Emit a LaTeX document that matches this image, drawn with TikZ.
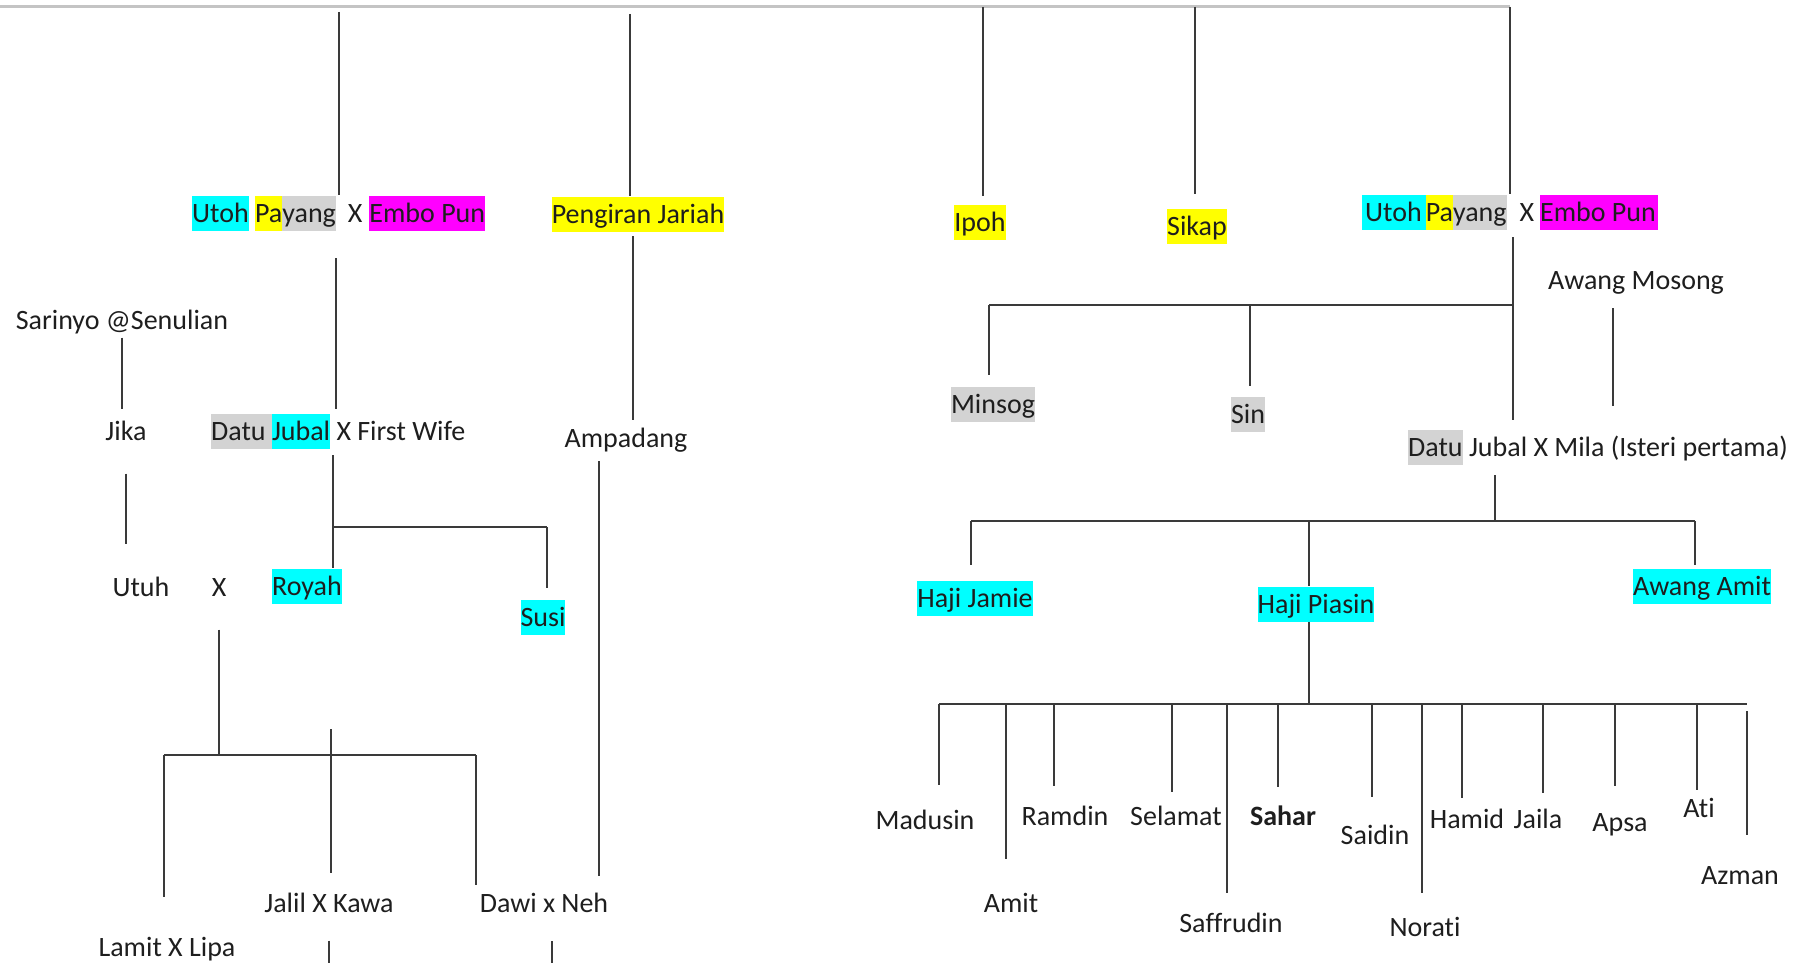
\documentclass[tikz,border=0pt]{standalone}
\usepackage{fontspec}
\setmainfont{Carlito}[Ligatures=NoCommon]
\usetikzlibrary{positioning}
\definecolor{hlcyan}{HTML}{00FFFF}
\definecolor{hlyellow}{HTML}{FFFF00}
\definecolor{hlmagenta}{HTML}{FF00FF}
\definecolor{hlgray}{HTML}{D3D3D3}
\definecolor{inkline}{HTML}{3A3A3A}
\definecolor{inktext}{HTML}{1E1E1E}
\definecolor{rootgray}{HTML}{C4C4C4}
\newcommand{\namefont}{\fontsize{28}{35}\selectfont}
\newcommand{\hilite}[2]{{\setlength{\fboxsep}{0pt}\colorbox{#1}{\rule[-8pt]{0pt}{35pt}#2}}}
\tikzstyle{person} = [inner sep=0pt, text height=27pt, text depth=8pt, font=\namefont, text=inktext]
\tikzstyle{line} = [draw=inkline, line width=1.6pt]
\tikzstyle{rootline} = [draw=rootgray, line width=3pt]

\begin{document}
\begin{tikzpicture}[x=1pt, y=-1pt]
	\useasboundingbox (0,0) rectangle (1807,963);

	% First generation
	\node (payangL) [person, anchor=west] at (192,213) {\hilite{hlcyan}{Utoh} \hilite{hlyellow}{Pa}\hilite{hlgray}{yang}\hspace{12pt}X\hspace{7pt}\hilite{hlmagenta}{Embo Pun}};
	\node (jariah) [person] at (638,214) {\hilite{hlyellow}{Pengiran Jariah}};
	\node (ipoh) [person] at (980,222) {\hilite{hlyellow}{Ipoh}};
	\node (sikap) [person] at (1197,226) {\hilite{hlyellow}{Sikap}};
	\node (payangR) [person, anchor=west] at (1362,212) {\hilite{hlcyan}{\kern3pt Utoh\kern4pt}\hilite{hlyellow}{Pa}\hilite{hlgray}{yang}\hspace{13pt}X\hspace{6pt}\hilite{hlmagenta}{Embo Pun\kern2pt}};

	% Left branch
	\node (sarinyo) [person] at (122,320) {Sarinyo @Senulian};
	\node (jika) [person] at (126,431) {Jika};
	\node (jubalL) [person, anchor=west] at (211,431) {\hilite{hlgray}{Datu\ }\hilite{hlcyan}{Jubal} X First Wife};
	\node (ampadang) [person] at (626,438) {Ampadang};
	\node (utuh) [person] at (141,587) {Utuh};
	\node (utuhX) [person, right=42pt of utuh] {X};
	\node (royah) [person] at (307,586) {\hilite{hlcyan}{Royah}};
	\node (susi) [person] at (543,617) {\hilite{hlcyan}{Susi}};
	\node (jalil) [person] at (329,903) {Jalil X Kawa};
	\node (dawi) [person] at (544,903) {Dawi x Neh};
	\node (lamit) [person] at (167,947) {Lamit X Lipa};

	% Right branch
	\node (minsog) [person] at (993,404) {\hilite{hlgray}{Minsog}};
	\node (sin) [person] at (1248,414) {\hilite{hlgray}{Sin}};
	\node (mosong) [person] at (1636,280) {Awang Mosong};
	\node (jubalR) [person, anchor=west] at (1408,447) {\hilite{hlgray}{Datu} Jubal X Mila (Isteri pertama)};
	\node (jamie) [person] at (975,598) {\hilite{hlcyan}{Haji Jamie}};
	\node (piasin) [person] at (1316,604) {\hilite{hlcyan}{Haji Piasin}};
	\node (awangamit) [person] at (1702,586) {\hilite{hlcyan}{Awang Amit}};

	% Children of Haji Piasin
	\node (madusin) [person] at (925,820) {Madusin};
	\node (amit) [person] at (1011,903) {Amit};
	\node (ramdin) [person] at (1065,816) {Ramdin};
	\node (selamat) [person] at (1176,816) {Selamat};
	\node (saffrudin) [person] at (1231,923) {Saffrudin};
	\node (sahar) [person] at (1283,816) {\textbf{Sahar}};
	\node (saidin) [person] at (1375,835) {Saidin};
	\node (norati) [person] at (1425,927) {Norati};
	\node (hamid) [person] at (1467,819) {Hamid};
	\node (jaila) [person] at (1538,819) {Jaila};
	\node (apsa) [person] at (1620,822) {Apsa};
	\node (ati) [person] at (1699,808) {Ati};
	\node (azman) [person] at (1740,875) {Azman};

	% Top line and its drops
	\coordinate (rootW) at (0,7);
	\coordinate (rootE) at (1510,7);
	\coordinate (drop1) at (339,12);
	\coordinate (drop2) at (630,14);
	\coordinate (drop3) at (983,7);
	\coordinate (drop4) at (1195,7);
	\draw[rootline] (rootW) -- (rootE);
	\draw[line] (drop1) -- (drop1 |- payangL.north);
	\draw[line] (drop2) -- (drop2 |- jariah.north);
	\draw[line, shorten >=8pt] (drop3) -- (drop3 |- ipoh.north);
	\draw[line, shorten >=14pt] (drop4) -- (drop4 |- sikap.north);
	\draw[line] (rootE) -- (rootE |- payangR.north);

	% Left branch lines
	\coordinate (jubalLTop) at (336,258);
	\coordinate (ampTop) at (633,236);
	\coordinate (jubalLDrop) at (333,455);
	\coordinate (jubalLFork) at (333,527);
	\coordinate (susiTop) at (547,527);
	\coordinate (ampDrop) at (599,461);
	\draw[line, shorten >=4pt] (jubalLTop) -- (jubalLTop |- jubalL.north);
	\draw[line] (ampTop) -- (ampTop |- ampadang.north);
	\draw[line, shorten >=4pt] (sarinyo.south) -- (sarinyo.south |- jika.north);
	\draw[line, shorten <=25pt, shorten >=25pt] (jika.south) -- (jika.south |- utuh.north);
	\draw[line] (jubalLDrop) -- (jubalLDrop |- royah.north);
	\draw[line] (jubalLFork) -- (susiTop);
	\draw[line, shorten >=11pt] (susiTop) -- (susiTop |- susi.north);
	\draw[line, shorten >=9pt] (ampDrop) -- (ampDrop |- dawi.north);

	% Children of Utuh
	\coordinate (utuhFork) at (utuhX.south |- 0,755);
	\coordinate (lamitTop) at (164,755);
	\coordinate (dawiTop) at (476,755);
	\coordinate (jalilTop) at (331,729);
	\coordinate (pageBottom) at (0,963);
	\coordinate (dawiDown) at (552,941);
	\draw[line, shorten <=25pt] (utuhX.south) -- (utuhFork);
	\draw[line] (lamitTop) -- (dawiTop);
	\draw[line, shorten >=32pt] (lamitTop) -- (lamitTop |- lamit.north);
	\draw[line] (dawiTop) -- (dawiTop |- dawi.north);
	\draw[line, shorten >=12pt] (jalilTop) -- (jalilTop |- jalil.north);
	\draw[line, shorten <=20pt] (jalil.south) -- (jalil.south |- pageBottom);
	\draw[line] (dawiDown) -- (dawiDown |- pageBottom);

	% Right branch lines
	\coordinate (payangRDrop) at (1513,237);
	\coordinate (payangRFork) at (1513,305);
	\coordinate (minsogTop) at (989,305);
	\coordinate (sinTop) at (1250,305);
	\coordinate (mosongDrop) at (1613,308);
	\draw[line, shorten >=9pt] (payangRDrop) -- (payangRDrop |- jubalR.north);
	\draw[line] (minsogTop) -- (payangRFork);
	\draw[line, shorten >=11pt] (minsogTop) -- (minsogTop |- minsog.north);
	\draw[line, shorten >=10pt] (sinTop) -- (sinTop |- sin.north);
	\draw[line, shorten >=23pt] (mosongDrop) -- (mosongDrop |- jubalR.north);

	% Children of Datu Jubal
	\coordinate (jubalRDrop) at (1495,475);
	\coordinate (jubalRFork) at (1495,521);
	\coordinate (jamieTop) at (971,521);
	\coordinate (piasinTop) at (1309,521);
	\coordinate (awangTop) at (1695,521);
	\draw[line] (jubalRDrop) -- (jubalRFork);
	\draw[line] (jamieTop) -- (awangTop);
	\draw[line, shorten >=15pt] (jamieTop) -- (jamieTop |- jamie.north);
	\draw[line] (piasinTop) -- (piasinTop |- piasin.north);
	\draw[line, shorten >=3pt] (awangTop) -- (awangTop |- awangamit.north);

	% Children of Haji Piasin
	\coordinate (piasinFork) at (1309,704);
	\coordinate (madusinTop) at (939,704);
	\coordinate (amitTop) at (1006,704);
	\coordinate (ramdinTop) at (1054,704);
	\coordinate (selamatTop) at (1172,704);
	\coordinate (saffrudinTop) at (1227,704);
	\coordinate (saharTop) at (1278,704);
	\coordinate (saidinTop) at (1372,704);
	\coordinate (noratiTop) at (1422,704);
	\coordinate (hamidTop) at (1462,704);
	\coordinate (jailaTop) at (1543,704);
	\coordinate (apsaTop) at (1615,704);
	\coordinate (atiTop) at (1697,704);
	\coordinate (barE) at (1747,704);
	\coordinate (azmanTop) at (1747,711);
	\draw[line] (piasinFork |- piasin.south) -- (piasinFork);
	\draw[line] (madusinTop) -- (barE);
	\draw[line, shorten >=17pt] (madusinTop) -- (madusinTop |- madusin.north);
	\draw[line, shorten >=26pt] (amitTop) -- (amitTop |- amit.north);
	\draw[line, shorten >=12pt] (ramdinTop) -- (ramdinTop |- ramdin.north);
	\draw[line, shorten >=6pt] (selamatTop) -- (selamatTop |- selamat.north);
	\draw[line, shorten >=12pt] (saffrudinTop) -- (saffrudinTop |- saffrudin.north);
	\draw[line, shorten >=11pt] (saharTop) -- (saharTop |- sahar.north);
	\draw[line, shorten >=20pt] (saidinTop) -- (saidinTop |- saidin.north);
	\draw[line, shorten >=16pt] (noratiTop) -- (noratiTop |- norati.north);
	\draw[line, shorten >=3pt] (hamidTop) -- (hamidTop |- hamid.north);
	\draw[line, shorten >=8pt] (jailaTop) -- (jailaTop |- jaila.north);
	\draw[line, shorten >=18pt] (apsaTop) -- (apsaTop |- apsa.north);
	\draw[line] (atiTop) -- (atiTop |- ati.north);
	\draw[line, shorten >=22pt] (azmanTop) -- (azmanTop |- azman.north);

\end{tikzpicture}
\end{document}
